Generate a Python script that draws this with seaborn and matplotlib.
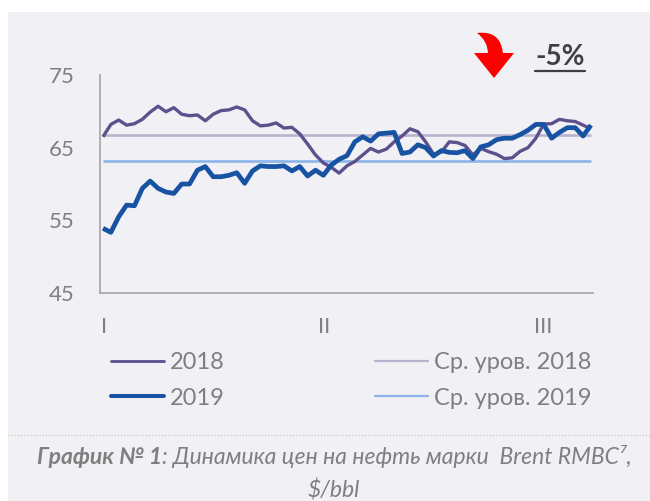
import numpy as np
import pandas as pd
import matplotlib
matplotlib.use("Agg")
import matplotlib.pyplot as plt
import seaborn as sns
from matplotlib.patches import Rectangle, PathPatch, Polygon
from matplotlib.path import Path
from matplotlib.lines import Line2D
from matplotlib.transforms import ScaledTranslation, Affine2D

# ---------------- data ----------------
brent_2018 = [66.5, 68.2, 68.8, 68.1, 68.3, 68.9, 69.9, 70.7, 69.95, 70.5,
              69.6, 69.4, 69.5, 68.7, 69.6, 70.1, 70.2, 70.6, 70.2, 68.7,
              68.0, 68.1, 68.4, 67.7, 67.8, 66.9, 65.5, 64.0, 62.9, 62.3,
              61.5, 62.5, 63.1, 64.0, 64.9, 64.4, 64.8, 65.8, 66.6, 67.6,
              67.2, 65.8, 64.1, 64.4, 65.8, 65.7, 65.3, 64.0, 64.9, 64.45,
              64.1, 63.5, 63.6, 64.5, 65.0, 66.3, 68.25, 68.3, 68.9, 68.7,
              68.6, 68.1, 67.6]
brent_2019 = [53.9, 53.35, 55.5, 57.1, 57.0, 59.4, 60.4, 59.4, 58.9, 58.7,
              60.0, 60.0, 61.9, 62.4, 61.0, 61.0, 61.2, 61.55, 60.1, 61.8,
              62.5, 62.4, 62.4, 62.5, 61.8, 62.4, 61.1, 61.9, 61.2, 62.6,
              63.4, 63.9, 65.8, 66.5, 65.9, 66.9, 67.0, 67.1, 64.2, 64.4,
              65.4, 65.0, 63.85, 64.6, 64.35, 64.3, 64.6, 63.5, 65.1, 65.4,
              66.1, 66.3, 66.3, 66.8, 67.4, 68.2, 68.2, 66.3, 67.1, 67.75,
              67.75, 66.6, 68.1]
avg_2018 = 66.7
avg_2019 = 63.2
series_names = ["2018", "2019"]
avg_names = ["Ср. уров. 2018", "Ср. уров. 2019"]
month_labels = ["I", "II", "III"]
month_tick_pos = [-0.38, 27.57, 55.4]
y_ticks = [45, 55, 65, 75]
change_label = "-5%"
caption_bold = "График № 1"
caption_rest = ": Динамика цен на нефть марки  Brent RMBC\u2077,"
caption_line2 = "$/bbl"

# ---------------- style ----------------
sns.set_style("white")
plt.rcParams["font.family"] = ["Lato", "DejaVu Sans"]

W, H = 650, 501
fig = plt.figure(figsize=(W / 100, H / 100), dpi=100, facecolor="white")


def pf(x, y):
    return (x / W, 1 - y / H)


# transform from image pixel coords (y down) to figure
pix = Affine2D().scale(1 / W, -1 / H).translate(0, 1) + fig.transFigure

PANEL = "#F0F0F5"
fig.patches.append(Rectangle(pf(8, H), (W - 8) / W, (H - 12) / H,
                             transform=fig.transFigure, facecolor=PANEL,
                             edgecolor="none", zorder=-10))

ax_l, ax_r, ax_t, ax_b = 100, 593, 75, 293
ax = fig.add_axes([ax_l / W, 1 - ax_b / H, (ax_r - ax_l) / W, (ax_b - ax_t) / H])
ax.set_facecolor("none")
ax.set_zorder(2)

n = len(brent_2018)
idx = np.arange(n)
df = pd.DataFrame({
    "idx": np.concatenate([idx, idx, idx, idx]),
    "price": np.concatenate([np.full(n, avg_2018), np.full(n, avg_2019),
                             brent_2018, brent_2019]),
    "series": [avg_names[0]] * n + [avg_names[1]] * n
              + [series_names[0]] * n + [series_names[1]] * n,
})

colors = {series_names[0]: "#5E508C", series_names[1]: "#1852A3",
          avg_names[0]: "#B9B4CD", avg_names[1]: "#8DB4E8"}
widths = {series_names[0]: 2.4, series_names[1]: 3.4,
          avg_names[0]: 1.9, avg_names[1]: 1.9}

for name in [avg_names[0], avg_names[1], series_names[0], series_names[1]]:
    sns.lineplot(data=df[df["series"] == name], x="idx", y="price", ax=ax,
                 color=colors[name], linewidth=widths[name], legend=False,
                 solid_joinstyle="round", solid_capstyle="butt")

ax.set_xlim(-0.38, 62.26)
ax.set_ylim(45, 75)
ax.set_xlabel("")
ax.set_ylabel("")
for s in ["top", "right"]:
    ax.spines[s].set_visible(False)
for s in ["left", "bottom"]:
    ax.spines[s].set_color("#ABABAB")
    ax.spines[s].set_linewidth(1.3)
ax.set_yticks(y_ticks)
ax.set_xticks(month_tick_pos)
ax.set_xticklabels(month_labels)
ax.tick_params(axis="both", which="major", direction="out", length=5,
               width=1.3, color="#ABABAB", labelcolor="#7F7F7F",
               labelsize=16)
ax.tick_params(axis="y", pad=13)
ax.tick_params(axis="x", pad=12)
for lab in ax.get_xticklabels():
    lab.set_transform(lab.get_transform() + ScaledTranslation(4 / 100, 0, fig.dpi_scale_trans))

# ---------------- legends ----------------
def handle(name):
    return Line2D([], [], color=colors[name], linewidth=widths[name] * 0.85)

leg_fs = 17
leg_kw = dict(loc="upper left", frameon=False, fontsize=leg_fs, handlelength=2.25,
              handletextpad=0.25, labelspacing=0.62, borderpad=0, borderaxespad=0,
              labelcolor="#7F7F7F")
fig.legend([handle(series_names[0]), handle(series_names[1])], series_names,
           bbox_to_anchor=pf(111, 352), **leg_kw)
fig.legend([handle(avg_names[0]), handle(avg_names[1])], avg_names,
           bbox_to_anchor=pf(375, 352), **leg_kw)

# ---------------- dotted separator ----------------
fig.lines.append(Line2D([8 / W, 1], [1 - 435 / H] * 2, transform=fig.transFigure,
                        color="#C8C8C8", linewidth=0.9, linestyle=(0, (1, 1.5))))

# ---------------- caption ----------------
cap_fs = 16.5
cap_color = "#7F7F7F"
t1 = fig.text(0, 1 - 457 / H, caption_bold, fontsize=cap_fs, fontstyle="italic",
              fontweight="bold", color=cap_color, va="center", ha="left",
              family=["Lato", "DejaVu Sans"])
t2 = fig.text(0, 1 - 457 / H, caption_rest, fontsize=cap_fs, fontstyle="italic",
              color=cap_color, va="center", ha="left", family=["Lato", "DejaVu Sans"])
renderer = fig.canvas.get_renderer()
w1 = t1.get_window_extent(renderer).width
w2 = t2.get_window_extent(renderer).width
cx = 334
start = cx - (w1 + w2) / 2
t1.set_x(start / W)
t2.set_x((start + w1) / W)
fig.text(cx / W, 1 - 490 / H, caption_line2, fontsize=cap_fs, fontstyle="italic",
         color=cap_color, va="center", ha="center")

# ---------------- arrow & change label ----------------
shaft = Path([(477, 33), (501, 30), (503, 54), (488, 54), (488, 41), (477, 33), (477, 33)],
             [Path.MOVETO, Path.CURVE3, Path.CURVE3, Path.LINETO, Path.CURVE3,
              Path.CURVE3, Path.CLOSEPOLY])
fig.patches.append(PathPatch(shaft, transform=pix, facecolor="#FF0000",
                             edgecolor="none", zorder=3))
fig.patches.append(Polygon([(474, 53), (514, 53), (494, 78)], closed=True,
                           transform=pix, facecolor="#FF0000", edgecolor="none",
                           zorder=3))
fig.text(560 / W, 1 - 57 / H, change_label, fontsize=20, fontweight="bold",
         color="#404040", ha="center", va="center")
fig.lines.append(Line2D([535 / W, 585 / W], [1 - 71 / H] * 2, transform=fig.transFigure,
                        color="#404040", linewidth=1.6))

fig.savefig("out.png", dpi=100, facecolor="white")
